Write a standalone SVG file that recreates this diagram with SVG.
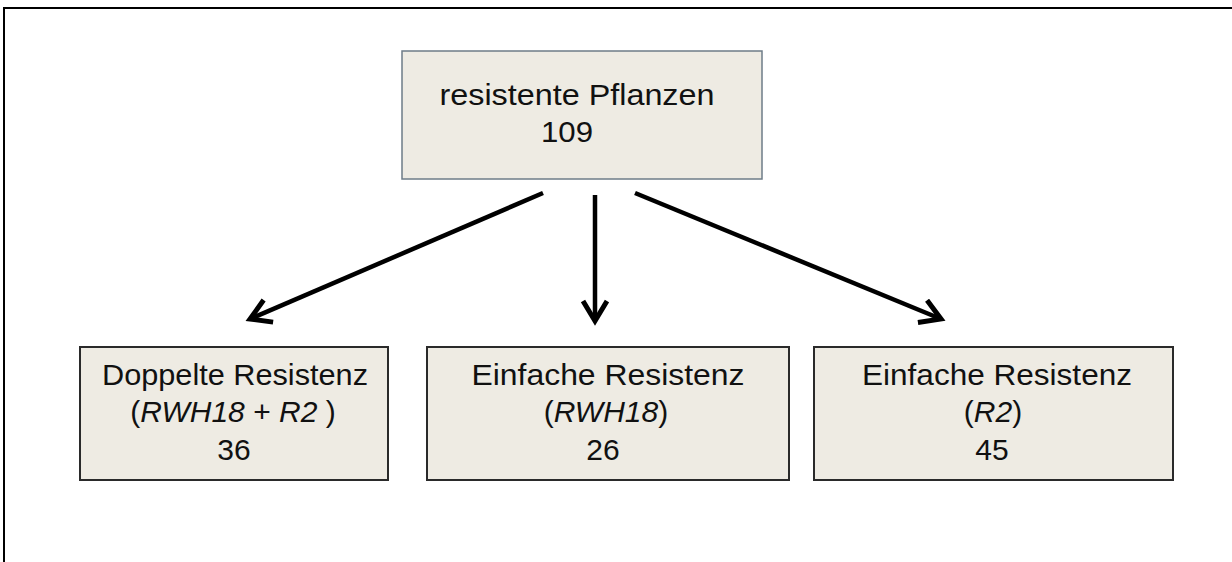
<svg xmlns="http://www.w3.org/2000/svg" width="1232" height="562" viewBox="0 0 1232 562">
<defs>
<style>
.box{fill:#eeebe3;}
.top{stroke:#6e7c88;stroke-width:1.5;}
.bot{stroke:#2a2a2a;stroke-width:2;}
text{font-family:"Liberation Sans",Arial,sans-serif;font-size:30px;fill:#111;text-anchor:middle;}
.it{font-style:italic;}
.arr{stroke:#000;stroke-width:4.5;fill:none;stroke-linecap:butt;}
</style>
<marker id="ah" markerUnits="userSpaceOnUse" markerWidth="34" markerHeight="34" refX="24" refY="14" orient="auto">
<path d="M4,2 L24,14 L4,26" fill="none" stroke="#000" stroke-width="5" stroke-linejoin="miter"/>
</marker>
</defs>
<rect x="0" y="0" width="1232" height="562" fill="#fff"/>
<rect x="4" y="8" width="1240" height="570" fill="none" stroke="#000" stroke-width="2"/>
<g id="connectors">
<line class="arr" x1="543" y1="193" x2="250" y2="319" marker-end="url(#ah)"/>
<line class="arr" x1="595" y1="195" x2="595" y2="321" marker-end="url(#ah)"/>
<line class="arr" x1="635" y1="193" x2="941" y2="319" marker-end="url(#ah)"/>
</g>
<g id="node-top">
<rect class="box top" x="402" y="51" width="360" height="128"/>
<text x="577" y="105" textLength="275" lengthAdjust="spacingAndGlyphs">resistente Pflanzen</text>
<text x="567" y="142" textLength="52" lengthAdjust="spacingAndGlyphs">109</text>
</g>
<g id="node-double">
<rect class="box bot" x="80" y="347" width="308" height="133"/>
<text x="235" y="385" textLength="266" lengthAdjust="spacingAndGlyphs">Doppelte Resistenz</text>
<text x="233" y="422">(<tspan class="it">RWH18</tspan> + <tspan class="it">R2</tspan> )</text>
<text x="234" y="460">36</text>
</g>
<g id="node-rwh18">
<rect class="box bot" x="427" y="347" width="362" height="133"/>
<text x="608" y="385" textLength="273" lengthAdjust="spacingAndGlyphs">Einfache Resistenz</text>
<text x="606" y="422">(<tspan class="it">RWH18</tspan>)</text>
<text x="603" y="460">26</text>
</g>
<g id="node-r2">
<rect class="box bot" x="814" y="347" width="359" height="133"/>
<text x="997" y="385" textLength="270" lengthAdjust="spacingAndGlyphs">Einfache Resistenz</text>
<text x="993" y="422">(<tspan class="it">R2</tspan>)</text>
<text x="992" y="460">45</text>
</g>
</svg>
